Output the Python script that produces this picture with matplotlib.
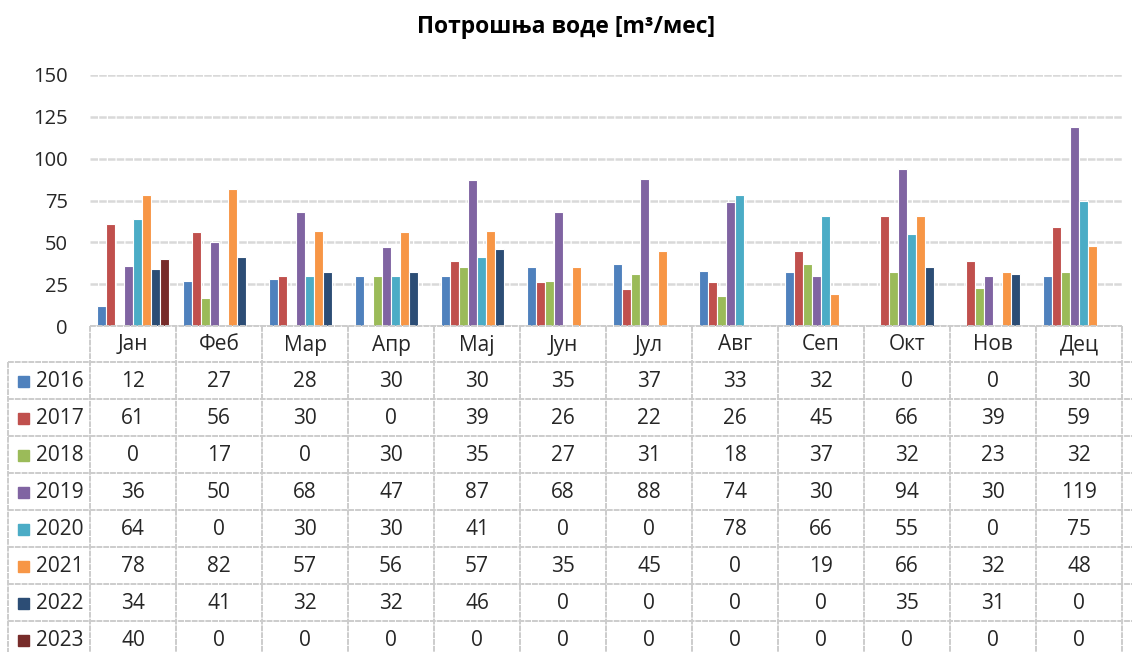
import numpy as np
import matplotlib.pyplot as plt
from matplotlib.patches import Rectangle

plt.rcParams['font.family'] = ['Open Sans', 'DejaVu Sans']

months = ["Јан", "Феб", "Мар", "Апр", "Мај", "Јун", "Јул", "Авг", "Сеп", "Окт", "Нов", "Дец"]
years = ["2016", "2017", "2018", "2019", "2020", "2021", "2022", "2023"]

v2016 = [12, 27, 28, 30, 30, 35, 37, 33, 32, 0, 0, 30]
v2017 = [61, 56, 30, 0, 39, 26, 22, 26, 45, 66, 39, 59]
v2018 = [0, 17, 0, 30, 35, 27, 31, 18, 37, 32, 23, 32]
v2019 = [36, 50, 68, 47, 87, 68, 88, 74, 30, 94, 30, 119]
v2020 = [64, 0, 30, 30, 41, 0, 0, 78, 66, 55, 0, 75]
v2021 = [78, 82, 57, 56, 57, 35, 45, 0, 19, 66, 32, 48]
v2022 = [34, 41, 32, 32, 46, 0, 0, 0, 0, 35, 31, 0]
v2023 = [40, 0, 0, 0, 0, 0, 0, 0, 0, 0, 0, 0]
series = [v2016, v2017, v2018, v2019, v2020, v2021, v2022, v2023]

colors = ["#4F81BD", "#C0504D", "#9BBB59", "#8064A2",
          "#4BACC6", "#F79646", "#2C4D75", "#772C2A"]

W, H = 1132, 652
fig = plt.figure(figsize=(W / 100, H / 100), dpi=100)

# plot area in pixels
left, right, top, base = 90, 1122, 75, 326
ax = fig.add_axes([left / W, 1 - base / H, (right - left) / W, (base - top) / H])

x = np.arange(len(months))
bw = 0.105
for i, (vals, c) in enumerate(zip(series, colors)):
    ax.bar(x + (i - 3.5) * bw, vals, bw, color=c, edgecolor='white',
           linewidth=0.8, zorder=3)

ax.set_xlim(-0.5, len(months) - 0.5)
ax.set_ylim(0, 150)
ax.set_yticks([0, 25, 50, 75, 100, 125, 150])
ax.set_xticks([])
ax.tick_params(axis='y', length=0, pad=16, labelsize=14.5, labelcolor='#262626')
for s in ax.spines.values():
    s.set_visible(False)
ax.yaxis.grid(True, color='#d9d9d9', linewidth=1.8, linestyle=(0, (3, 0.5)), zorder=0)

fig.text(0.5, 1 - 27 / H, "Потрошња воде [m³/мес]", ha='center', va='center',
         fontsize=16.5, fontweight='bold', color='#000000')

# data table below the plot, drawn in pixel-like row units
tab = fig.add_axes([left / W, 0, (right - left) / W, base / H])
tab.set_xlim(-0.5, len(months) - 0.5)
tab.set_ylim(H, base)
tab.axis('off')

grp = (right - left) / len(months)
leg_left = -0.5 - (left - 8) / grp
head_h = 36
row_h = 37
fs = 15
line_kw = dict(color='#cccccc', linewidth=1.4, linestyle=(0, (3, 0.5)), clip_on=False)

# header row
tab.plot([-0.5, len(months) - 0.5], [base, base], **line_kw)
for j in range(len(months) + 1):
    tab.plot([j - 0.5, j - 0.5], [base, H], **line_kw)
for j, m in enumerate(months):
    tab.text(j, base + head_h / 2 + 1, m, ha='center', va='center',
             fontsize=fs, color='#262626')

# data rows
tab.plot([leg_left, leg_left], [base + head_h, H], **line_kw)
for i, (yr, vals, c) in enumerate(zip(years, series, colors)):
    y0 = base + head_h + i * row_h
    tab.plot([leg_left, len(months) - 0.5 + 0.12], [y0, y0], **line_kw)
    yc = y0 + row_h / 2 + 1
    tab.add_patch(Rectangle((leg_left + 10 / grp, yc - 5.5), 11 / grp, 11,
                            color=c, clip_on=False))
    tab.text(leg_left + 28 / grp, yc, yr, ha='left', va='center',
             fontsize=fs, color='#262626', clip_on=False)
    for j, v in enumerate(vals):
        tab.text(j, yc, str(v), ha='center', va='center',
                 fontsize=fs, color='#262626')

fig.savefig("out.png", dpi=100)
